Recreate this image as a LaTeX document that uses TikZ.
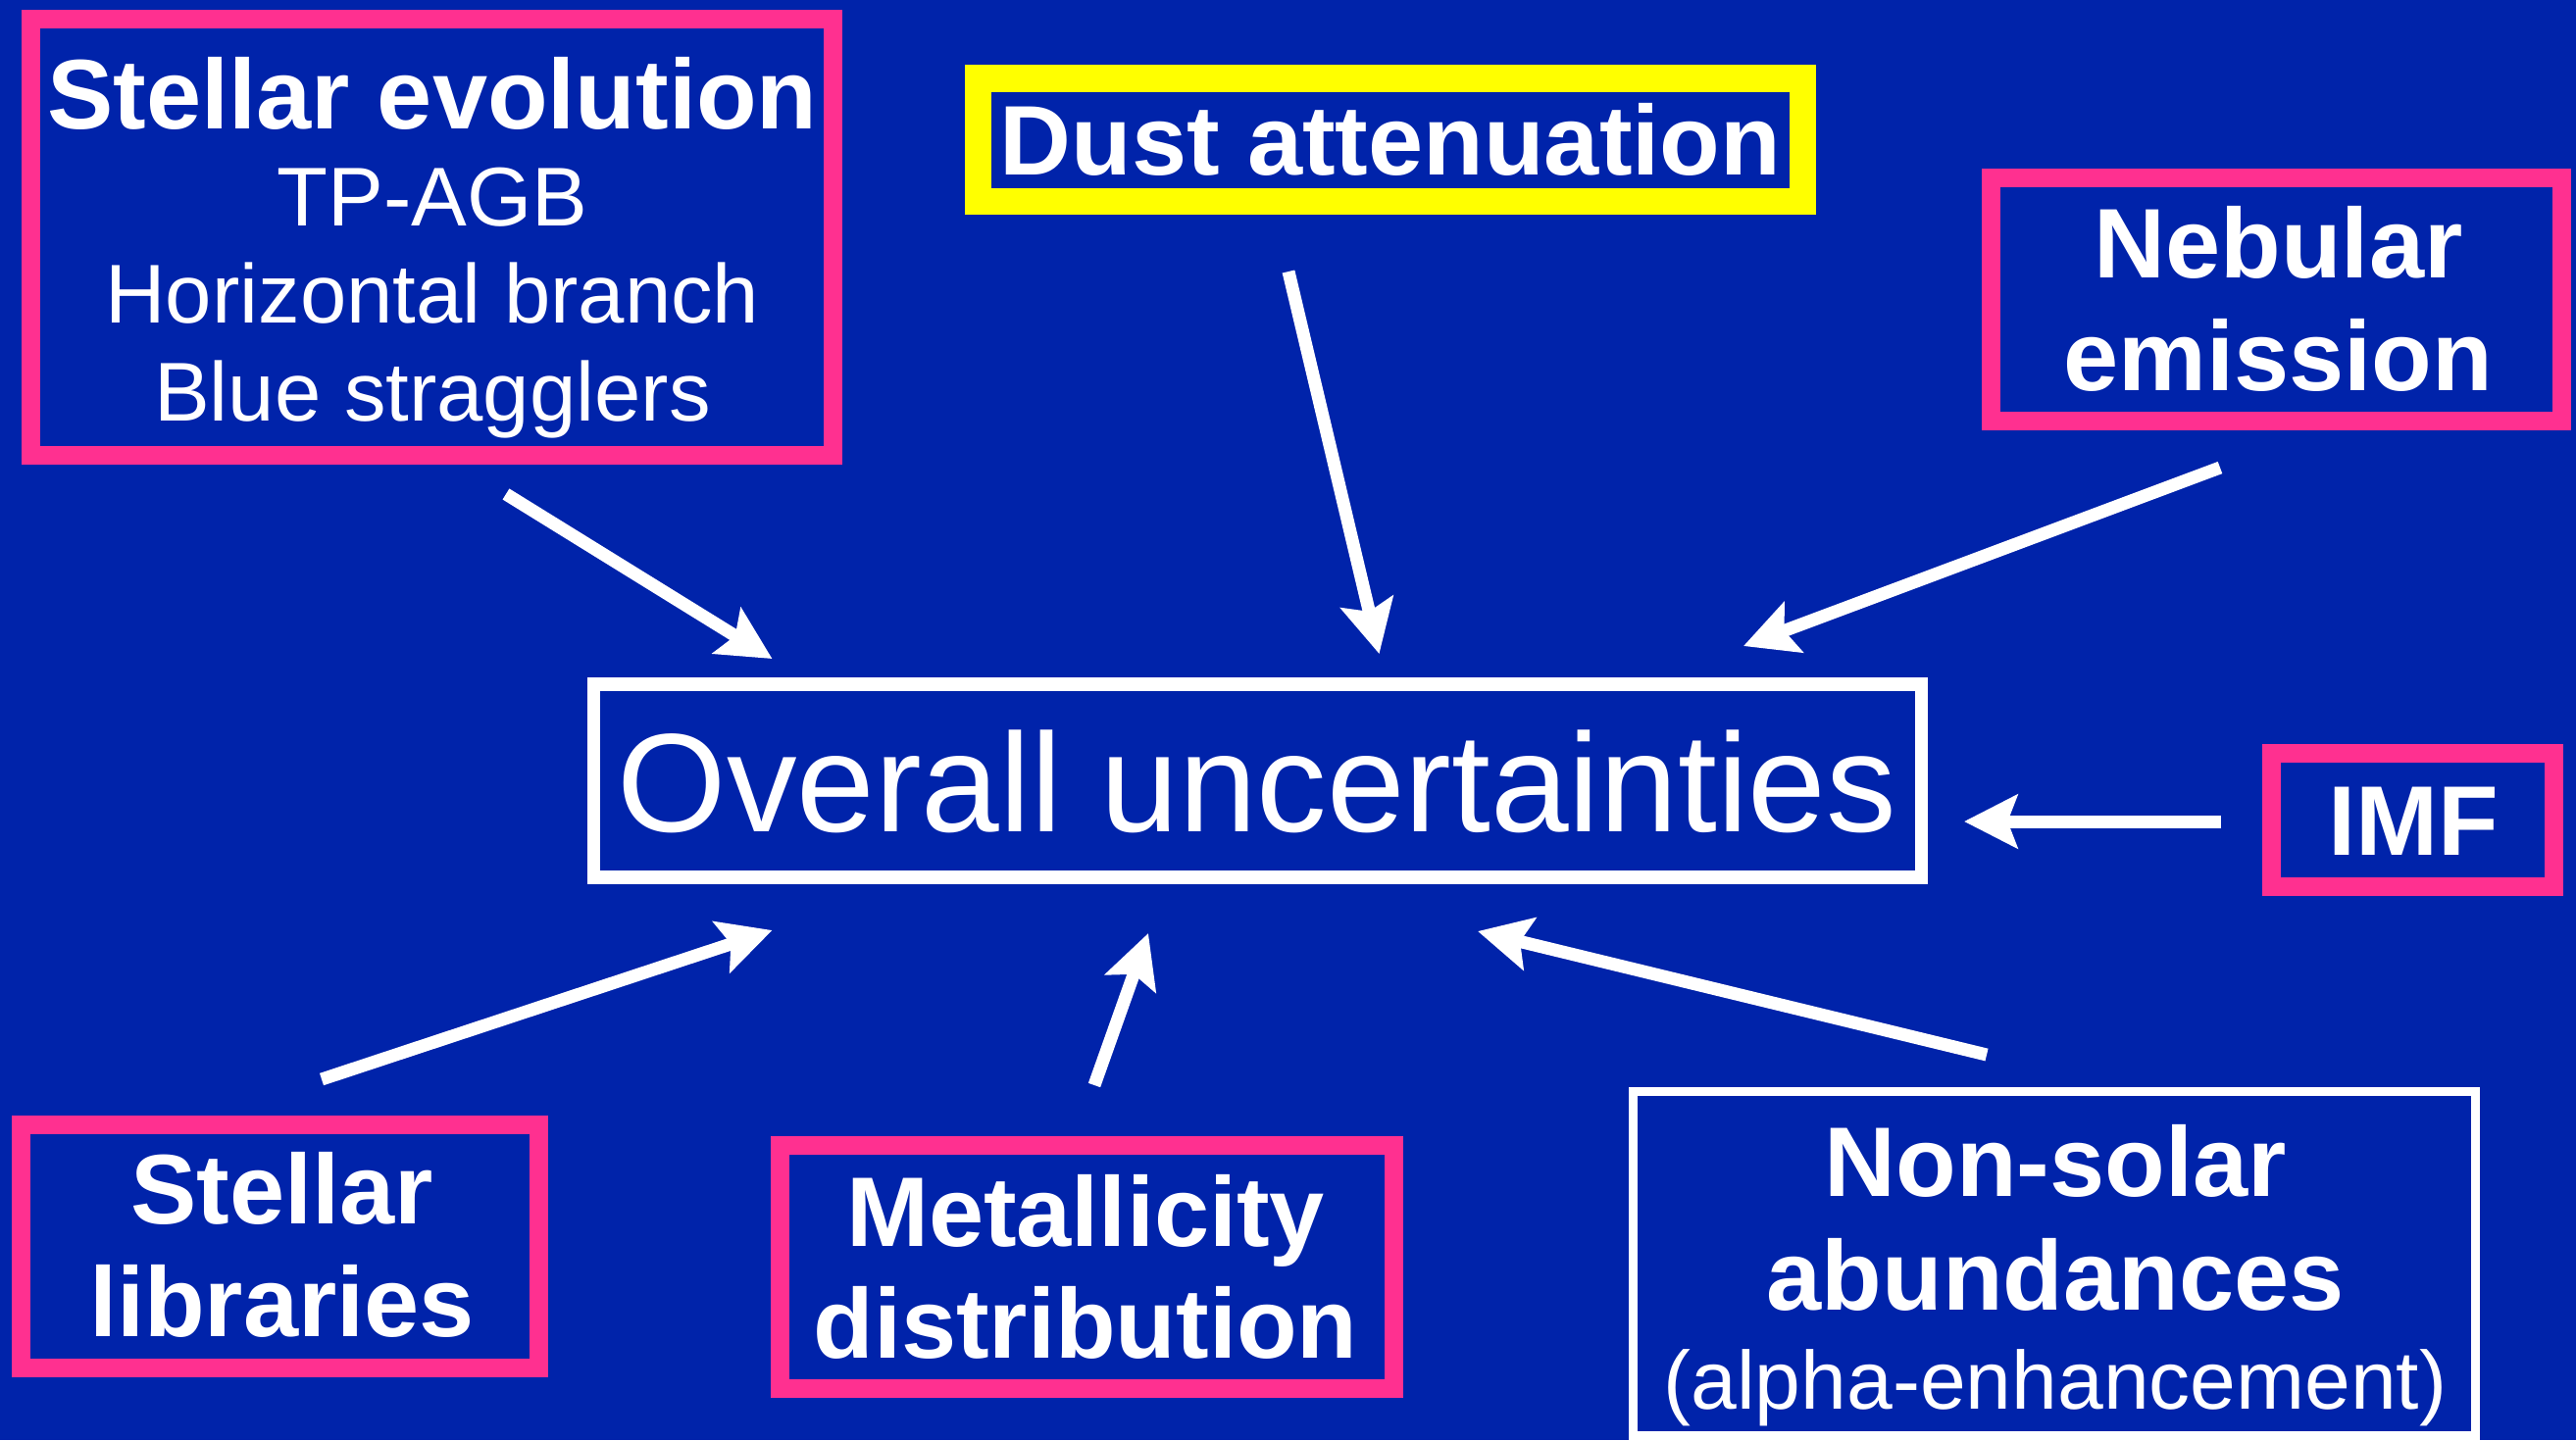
\documentclass[tikz,border=0pt]{standalone}
\usepackage{fontspec}
\setmainfont{Liberation Sans}
\usetikzlibrary{arrows.meta}

\definecolor{slideblue}{RGB}{0,35,170}
\definecolor{framepink}{RGB}{255,48,144}
\definecolor{frameyellow}{RGB}{255,255,0}

\begin{document}
\begin{tikzpicture}[
    x=0.01cm, y=-0.01cm,
    >={Stealth[length=15.4pt,width=15.4pt,inset=2.8pt]},
    boxframe/.style={draw,inner sep=0pt,line width=5.4pt},
    pinkbox/.style={boxframe,draw=framepink},
    yellowbox/.style={boxframe,draw=frameyellow,line width=7.7pt},
    whitebox/.style={boxframe,draw=white},
    txt/.style={text=white,align=center,inner sep=0pt},
    bigtxt/.style={txt,font=\fontsize{28.7pt}{32.44pt}\selectfont\bfseries},
    arr/.style={->,draw=white,line width=3.7pt}
]

\useasboundingbox (0,0) rectangle (2627,1469);
\fill[slideblue] (0,0) rectangle (2627,1469);

% Stellar evolution
\node[pinkbox,minimum width=8.175cm,minimum height=4.445cm] (evo) at (440.75,241.75) {};
\node[txt,font=\fontsize{24.2pt}{28.17pt}\selectfont] (evo-txt) at (441,258.7)
    {{\fontsize{28.7pt}{28.17pt}\selectfont\bfseries Stellar evolution}\strut\\
     TP-AGB\strut\\Horizontal branch\strut\\Blue stragglers\strut};

% Dust
\node[yellowbox,minimum width=8.40cm,minimum height=1.255cm] (dust) at (1418,142.75) {};
\node[bigtxt] (dust-txt) at (1418,155.2) {Dust attenuation\strut};

% Nebular emission
\node[pinkbox,minimum width=5.81cm,minimum height=2.475cm] (neb) at (2321.5,305.75) {};
\node[bigtxt] (neb-txt) at (2323.5,318.2) {Nebular\strut\\emission\strut};

% Centre box
\node[whitebox,line width=3.84pt,minimum width=13.53cm,minimum height=1.97cm] (overall) at (1282.5,796.5) {};
\node[txt,font=\fontsize{40.7pt}{48.94pt}\selectfont] (overall-txt) at (1282,813.9) {Overall uncertainties\strut};

% IMF
\node[pinkbox,minimum width=2.88cm,minimum height=1.355cm] (imf) at (2460.5,836.25) {};
\node[bigtxt] (imf-txt) at (2461,849.2) {IMF\strut};

% Stellar libraries
\node[pinkbox,minimum width=5.275cm,minimum height=2.475cm] (lib) at (285.75,1271.25) {};
\node[bigtxt] (lib-txt) at (287.5,1283.2) {Stellar\strut\\libraries\strut};

% Metallicity
\node[pinkbox,minimum width=6.26cm,minimum height=2.48cm] (met) at (1108.5,1292.5) {};
\node[bigtxt] (met-txt) at (1107,1305.2) {Metallicity\strut\\distribution\strut};

% Non-solar abundances
\node[whitebox,line width=2.56pt,minimum width=8.585cm,minimum height=3.50cm] (nonsolar) at (2094.75,1289) {};
\node[txt,font=\fontsize{28.7pt}{32.72pt}\selectfont\bfseries] (nonsolar-txt) at (2096,1306)
    {Non-solar\strut\\abundances\strut\\[-3.98pt]
     {\fontsize{23.9pt}{32.72pt}\selectfont\mdseries (alpha-enhancement)}\strut};

% arrow ends
\coordinate (evo-out) at (516,504);
\coordinate (evo-in) at (787.5,672);
\coordinate (dust-out) at (1314,277);
\coordinate (dust-in) at (1406.5,667);
\coordinate (neb-out) at (2264,477);
\coordinate (neb-in) at (1778,659);
\coordinate (imf-out) at (2265,838);
\coordinate (imf-in) at (2003,838);
\coordinate (nonsolar-out) at (2026,1076);
\coordinate (nonsolar-in) at (1507,950);
\coordinate (met-out) at (1116,1107);
\coordinate (met-in) at (1171,952);
\coordinate (lib-out) at (328,1101);
\coordinate (lib-in) at (787.5,949);

\draw[arr] (evo-out) -- (evo-in);
\draw[arr] (dust-out) -- (dust-in);
\draw[arr] (neb-out) -- (neb-in);
\draw[arr] (imf-out) -- (imf-in);
\draw[arr] (nonsolar-out) -- (nonsolar-in);
\draw[arr] (met-out) -- (met-in);
\draw[arr] (lib-out) -- (lib-in);

\end{tikzpicture}
\end{document}
